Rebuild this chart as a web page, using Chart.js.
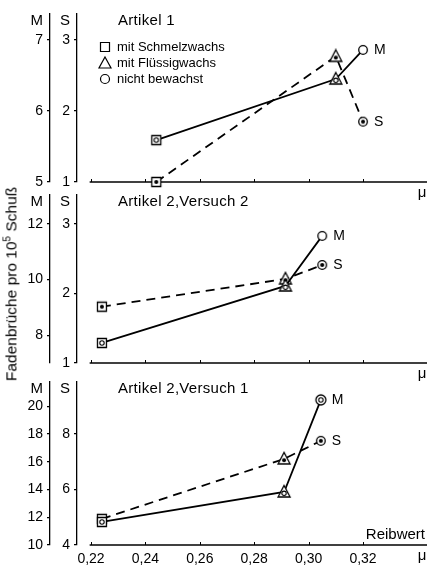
<!DOCTYPE html>
<html><head><meta charset="utf-8">
<script src="https://cdn.jsdelivr.net/npm/chart.js@4.4.0/dist/chart.umd.min.js"></script>
<style>
html,body{margin:0;padding:0;background:#fff;}
body{width:427px;height:565px;position:relative;overflow:hidden;}
canvas{position:absolute;left:0;}
#ytitle{position:absolute;left:11px;top:284px;transform:translate(-50%,-50%) rotate(-90deg);font:15.5px 'Liberation Sans',Arial,sans-serif;white-space:nowrap;color:#000;}
#ytitle sup{font-size:10px;}
</style></head><body>
<canvas id="c1" width="427" height="200" style="top:0"></canvas>
<canvas id="c2" width="427" height="200" style="top:181px"></canvas>
<canvas id="c3" width="427" height="197" style="top:368px"></canvas>
<div id="ytitle">Fadenbrüche pro 10<sup>5</sup> Schuß</div>
<script>
// ---- data ----
const xTickValues = [0.22, 0.24, 0.26, 0.28, 0.30, 0.32];
const xRange = [0.21485, 0.34353];
const wachsArten = ['mit Schmelzwachs', 'mit Flüssigwachs', 'nicht bewachst'];
const panelTitles = ['Artikel 1', 'Artikel 2,Versuch 2', 'Artikel 2,Versuch 1'];

const art1Reibwert = [0.244, 0.310, 0.320];
const art1M = [5.59, 6.45, 6.86];
const art1S = [1.00, 2.77, 1.85];
const art1MTicks = [5, 6, 7];
const art1STicks = [1, 2, 3];
const art1MRange = [5, 7.366];
const art1SRange = [1, 3.366];

const art2v2Reibwert = [0.224, 0.2915, 0.305];
const art2v2M = [7.72, 9.77, 11.57];
const art2v2S = [1.81, 2.21, 2.41];
const art2v2MTicks = [8, 10, 12];
const art2v2STicks = [1, 2, 3];
const art2v2MRange = [7, 13.04];
const art2v2SRange = [1, 3.417];

const art2v1Reibwert = [0.224, 0.291, 0.3045];
const art2v1M = [11.66, 13.82, 20.45];
const art2v1S = [4.94, 7.10, 7.75];
const art2v1MTicks = [10, 12, 14, 16, 18, 20];
const art2v1STicks = [4, 6, 8];
const art2v1MRange = [10, 21.74];
const art2v1SRange = [4, 9.87];

// ---- marker glyphs ----
function glyph(shape, inner) {
  const c = document.createElement('canvas'); c.width = 16; c.height = 16;
  const g = c.getContext('2d');
  g.strokeStyle = '#000'; g.fillStyle = '#fff'; g.lineWidth = 1.3;
  g.beginPath();
  if (shape === 'square') g.rect(3.5, 3.5, 9, 9);
  else if (shape === 'triangle') { g.moveTo(8, 1.5); g.lineTo(14, 13); g.lineTo(2, 13); g.closePath(); }
  else g.arc(8, 8, shape === 'circle2' ? 5 : 4.3, 0, Math.PI * 2);
  g.fill(); g.stroke();
  const cy = shape === 'triangle' ? 9.3 : 8;
  if (inner === 'ring') { g.beginPath(); g.arc(8, cy, 2.2, 0, 2 * Math.PI); g.lineWidth = 1.1; g.stroke(); }
  else if (inner === 'dot') { g.beginPath(); g.arc(8, cy, 2, 0, 2 * Math.PI); g.fillStyle = '#000'; g.fill(); }
  return c;
}
const G = {
  sqRing: glyph('square', 'ring'), sqDot: glyph('square', 'dot'),
  triRing: glyph('triangle', 'ring'), triDot: glyph('triangle', 'dot'),
  circOpen: glyph('circle', 'none'), circDouble: glyph('circle2', 'ring'), circDot: glyph('circle', 'dot')
};

Chart.defaults.font.family = "'Liberation Sans', Arial, sans-serif";
Chart.defaults.font.size = 14;
Chart.defaults.color = '#000';

const FONT = "'Liberation Sans', Arial, sans-serif";

const decor = {
  id: 'decor',
  beforeDatasetsDraw(chart, args, o) {
    const {ctx, chartArea: a} = chart; const x = chart.scales.x;
    ctx.save(); ctx.strokeStyle = '#000'; ctx.lineWidth = 1.3;
    ctx.beginPath(); ctx.moveTo(x.getPixelForValue(o.axisStart), a.bottom); ctx.lineTo(a.right, a.bottom); ctx.stroke();
    ctx.lineWidth = 1;
    x.ticks.forEach(t => { const px = Math.round(x.getPixelForValue(t.value)) + 0.5; ctx.beginPath(); ctx.moveTo(px, a.bottom); ctx.lineTo(px, a.bottom - 3); ctx.stroke(); });
    ctx.restore();
  },
  afterDraw(chart, args, o) {
    const {ctx, chartArea: a} = chart;
    ctx.save(); ctx.fillStyle = '#000'; ctx.strokeStyle = '#000';
    ctx.textBaseline = 'middle';
    // axis headers
    ctx.font = '15px ' + FONT; ctx.textAlign = 'right';
    ctx.fillText('M', chart.scales.yM.right - 7, a.top + 7);
    ctx.fillText('S', chart.scales.yS.right - 7, a.top + 7);
    // title
    ctx.textAlign = 'left'; ctx.font = '15px ' + FONT;
    try { ctx.letterSpacing = '0.3px'; } catch (e) {}
    ctx.fillText(o.title, a.left + 41, a.top + 7);
    try { ctx.letterSpacing = '0px'; } catch (e) {}
    // mu
    ctx.textAlign = 'center'; ctx.font = '15px ' + FONT;
    ctx.fillText('μ', a.right - 5, a.bottom + 11);
    if (o.reibwert) { ctx.textAlign = 'right'; ctx.fillText('Reibwert', a.right - 2, a.bottom - 10); }
    // endpoint labels
    ctx.textAlign = 'left'; ctx.font = '14px ' + FONT;
    ['M', 'S'].forEach((lab, i) => {
      const pts = chart.getDatasetMeta(i).data; const p = pts[pts.length - 1];
      ctx.fillText(lab, p.x + 11, p.y);
    });
    // legend
    if (o.legend) {
      ctx.font = '13px ' + FONT; ctx.lineWidth = 1.2;
      const lx = a.left + 28;
      o.legend.forEach((name, i) => {
        const ly = a.top + 33 + i * 16;
        ctx.beginPath();
        if (i === 0) ctx.rect(lx - 4.5, ly - 4.5, 9, 9);
        else if (i === 1) { ctx.moveTo(lx, ly - 6); ctx.lineTo(lx + 6, ly + 5); ctx.lineTo(lx - 6, ly + 5); ctx.closePath(); }
        else ctx.arc(lx, ly, 4.5, 0, Math.PI * 2);
        ctx.stroke();
        ctx.fillText(name, lx + 12, ly);
      });
    }
    ctx.restore();
  }
};
Chart.register(decor);

function yScale(range, ticks, weight, width) {
  return {
    type: 'linear', position: 'left', weight: weight, min: range[0], max: range[1],
    afterBuildTicks: s => { s.ticks = ticks.map(v => ({value: v})); },
    afterFit: s => { s.width = width; },
    grid: {drawOnChartArea: false, tickLength: 3, color: '#000', lineWidth: 1.2},
    border: {color: '#000', width: 1.3},
    ticks: {padding: 4, color: '#000', font: {size: 14}}
  };
}

function makePanel(id, xs, mVals, sVals, mRange, sRange, mTicks, sTicks, mStyles, sStyles, title, showX, xH, extra) {
  return new Chart(document.getElementById(id), {
    type: 'line',
    data: {datasets: [
      {label: 'M', data: xs.map((x, i) => ({x: x, y: mVals[i]})), yAxisID: 'yM', borderColor: '#000', borderWidth: 1.8,
       pointStyle: mStyles, pointRadius: 6, clip: false, tension: 0},
      {label: 'S', data: xs.map((x, i) => ({x: x, y: sVals[i]})), yAxisID: 'yS', borderColor: '#000', borderWidth: 1.8,
       borderDash: [9, 6], pointStyle: sStyles, pointRadius: 6, clip: false, tension: 0}
    ]},
    options: {
      responsive: false, animation: false, devicePixelRatio: 1, events: [],
      layout: {autoPadding: false, padding: {left: 0, right: 0, top: 14, bottom: 0}},
      plugins: {legend: {display: false}, tooltip: {enabled: false},
        decor: Object.assign({title: title, axisStart: 0.2195}, extra)},
      scales: {
        x: {type: 'linear', min: xRange[0], max: xRange[1],
          afterBuildTicks: s => { s.ticks = xTickValues.map(v => ({value: v})); },
          afterFit: s => { s.height = xH; },
          grid: {display: false, tickLength: 3}, border: {display: false},
          ticks: {display: showX, padding: 3, maxRotation: 0, autoSkip: false, color: '#000', font: {size: 14},
            callback: v => Number(v).toFixed(2).replace('.', ',')}},
        yM: yScale(mRange, mTicks, 2, 50),
        yS: yScale(sRange, sTicks, 1, 27)
      }
    }
  });
}

makePanel('c1', art1Reibwert, art1M, art1S, art1MRange, art1SRange, art1MTicks, art1STicks,
  [G.sqRing, G.triRing, G.circOpen], [G.sqDot, G.triDot, G.circDot], panelTitles[0], false, 18, {legend: wachsArten});
makePanel('c2', art2v2Reibwert, art2v2M, art2v2S, art2v2MRange, art2v2SRange, art2v2MTicks, art2v2STicks,
  [G.sqRing, G.triRing, G.circOpen], [G.sqDot, G.triDot, G.circDot], panelTitles[1], false, 18, {});
makePanel('c3', art2v1Reibwert, art2v1M, art2v1S, art2v1MRange, art2v1SRange, art2v1MTicks, art2v1STicks,
  [G.sqRing, G.triRing, G.circDouble], [G.sqDot, G.triDot, G.circDot], panelTitles[2], true, 20, {reibwert: true});
</script>
</body></html>
